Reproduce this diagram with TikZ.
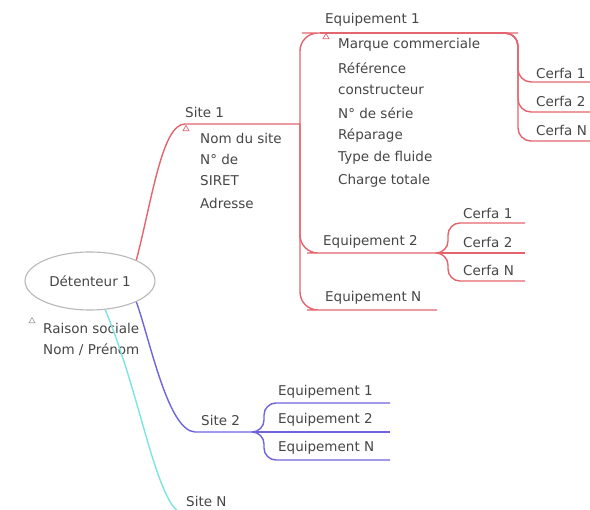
\documentclass[tikz,border=0pt]{standalone}
\usepackage{fontspec}
\setmainfont{DejaVu Sans}
\usetikzlibrary{shapes.geometric}
\definecolor{redc}{RGB}{228,100,110}
\definecolor{bluec}{RGB}{112,100,222}
\definecolor{cyanc}{RGB}{125,228,228}
\definecolor{txt}{RGB}{70,70,70}
\tikzset{
  lbl/.style={anchor=west, inner sep=0pt, text=txt, font=\fontsize{13.5}{16}\selectfont},
  redl/.style={draw=redc, line width=1.4pt},
  bluel/.style={draw=bluec, line width=1.4pt},
  cyanl/.style={draw=cyanc, line width=1.4pt},
  ell/.style={ellipse, draw=black!28, line width=1.1pt, minimum width=130pt, minimum height=58pt, inner sep=0pt, text=txt, font=\fontsize{13.5}{16}\selectfont},
  tri/.style={regular polygon, regular polygon sides=3, minimum size=7pt, inner sep=0pt, line width=0.7pt},
}
\begin{document}
\begin{tikzpicture}[x=1pt,y=-1pt]
\useasboundingbox[fill=white] (0,0) rectangle (590,510);
% root
\node[ell] (det) at (90,281) {Détenteur 1};
\node[tri, draw=black!35] (tr0) at (32,321) {};
\node[lbl] (rs) at (43,328) {Raison sociale};
\node[lbl] (np) at (43,350) {Nom / Prénom};
% ---- red branch: Site 1
\coordinate (s1a) at (185,124);
\coordinate (s1b) at (300,124);
\node[lbl] (site1) at (185,112) {Site 1};
\node[tri, draw=redc] (tr1) at (186,129) {};
\node[lbl] (a1) at (200,138) {Nom du site};
\node[lbl] (a2) at (200,159) {N° de};
\node[lbl] (a3) at (200,181) {SIRET};
\node[lbl] (a4) at (200,203) {Adresse};
\draw[redl] (det.north east) .. controls (152,200) and (162,124) .. (s1a) -- (s1b);
% Equipement 1
\coordinate (e1a) at (320,33);
\coordinate (e1b) at (518,33);
\node[lbl] (eq1) at (325,20) {Equipement 1};
\node[tri, draw=redc] (tr2) at (326,37) {};
\node[lbl] (m1) at (338,45) {Marque commerciale};
\node[lbl] (m2) at (338,68) {Référence};
\node[lbl] (m3) at (338,90) {constructeur};
\node[lbl] (m4) at (338,113) {N° de série};
\node[lbl] (m5) at (338,136) {Réparage};
\node[lbl] (m6) at (338,158) {Type de fluide};
\node[lbl] (m7) at (338,181) {Charge totale};
\draw[redl, rounded corners=18] (s1b) |- (e1a) -- (e1b);
% Cerfa of Equipement 1
\node[lbl] (c11) at (536,73) {Cerfa 1};
\node[lbl] (c12) at (536,101) {Cerfa 2};
\node[lbl] (c1n) at (536,130) {Cerfa N};
\coordinate (c11e) at (600,82);
\coordinate (c12e) at (600,112);
\coordinate (c1ne) at (600,141);
\draw[redl, rounded corners=13] (e1a) -- (e1b) |- (c11e);
\draw[redl, rounded corners=13] (e1a) -- (e1b) |- (c12e);
\draw[redl, rounded corners=13] (e1a) -- (e1b) |- (c1ne);
% Equipement 2
\coordinate (e2a) at (325,253);
\coordinate (e2b) at (437,253);
\node[lbl] (eq2) at (323,242) {Equipement 2};
\draw[redl, rounded corners=18] (s1b) |- (e2a) -- (e2b);
\node[lbl] (c21) at (463,213) {Cerfa 1};
\node[lbl] (c22) at (463,242) {Cerfa 2};
\node[lbl] (c2n) at (463,270) {Cerfa N};
\coordinate (c21e) at (525,223);
\coordinate (c22e) at (525,253);
\coordinate (c2ne) at (525,281);
\draw[redl, rounded corners=12] (e2b) -- (448,253) |- (c21e);
\draw[redl] (e2b) -- (c22e);
\draw[redl, rounded corners=12] (e2b) -- (448,253) |- (c2ne);
% Equipement N
\coordinate (ena) at (325,310);
\coordinate (enb) at (437,310);
\node[lbl] (eqn) at (325,298) {Equipement N};
\draw[redl, rounded corners=18] (s1b) |- (ena) -- (enb);
% ---- blue branch: Site 2
\coordinate (s2a) at (195,432);
\coordinate (s2b) at (255,432);
\node[lbl] (site2) at (201,420) {Site 2};
\draw[bluel] (det.south east) .. controls (150,340) and (168,431) .. (s2a) -- (s2b);
\node[lbl] (b1) at (278,392) {Equipement 1};
\node[lbl] (b2) at (278,420) {Equipement 2};
\node[lbl] (bn) at (278,448) {Equipement N};
\coordinate (b1e) at (390,403);
\coordinate (b2e) at (390,432);
\coordinate (bne) at (390,460);
\draw[bluel, rounded corners=12] (s2b) -- (264,432) |- (b1e);
\draw[bluel] (s2b) -- (b2e);
\draw[bluel, rounded corners=12] (s2b) -- (264,432) |- (bne);
% ---- cyan branch: Site N
\coordinate (sna) at (195,516);
\coordinate (snb) at (260,516);
\node[lbl] (siten) at (186,501) {Site N};
\draw[cyanl] (det.-62) .. controls (138,390) and (150,470) .. (172,505) .. controls (178,513) and (185,516) .. (sna) -- (snb);
\end{tikzpicture}
\end{document}
